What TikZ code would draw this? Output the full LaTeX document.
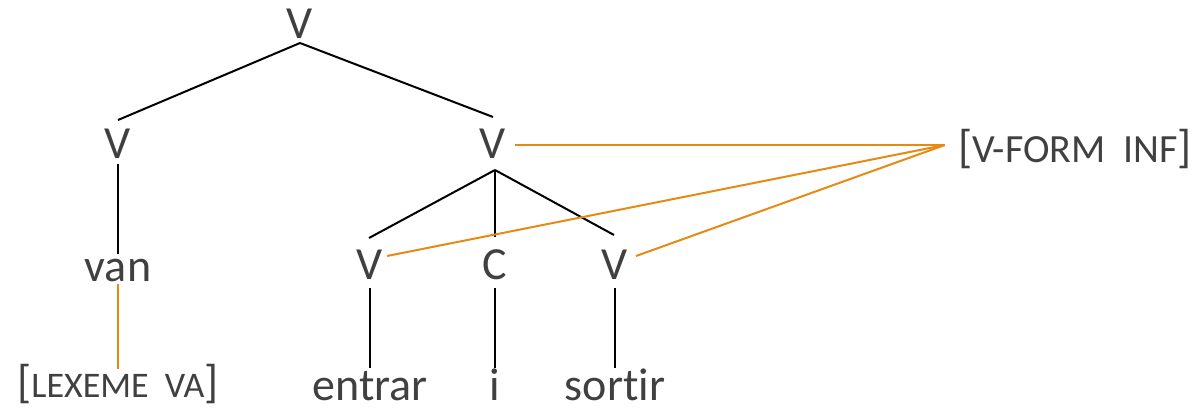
\documentclass[tikz,border=0pt]{standalone}
\usepackage{fontspec}
\setmainfont{Carlito}[Ligatures={NoCommon}]
\usetikzlibrary{calc}
\definecolor{ink}{HTML}{404040}
\definecolor{feat}{RGB}{230,138,20}
\tikzset{
  lbl/.style={anchor=base, inner sep=0pt, text=ink, font=\fontsize{46}{52}\selectfont},
  branch/.style={draw=black, line width=2pt},
  featlink/.style={draw=feat, line width=2pt},
}
\newcommand{\smc}[1]{{\fontsize{36}{40}\selectfont #1}}
\newcommand{\smcb}[1]{{\fontsize{40}{44}\selectfont #1}}
\begin{document}
\begin{tikzpicture}[x=1pt, y=-1pt]
  \useasboundingbox (0,0) rectangle (1193,407);
  % category labels
  \node[lbl] (v0) at (300,38) {V};
  \node[lbl] (v1) at (118,158) {V};
  \node[lbl] (v2) at (493,158) {V};
  \node[lbl] (van) at (118,281) {van};
  \node[lbl] (v3) at (370,279) {V};
  \node[lbl] (c)  at (495,279) {C};
  \node[lbl] (v4) at (615,279) {V};
  % words
  \node[lbl] (w1) at (370,400) {entrar};
  \node[lbl] (w2) at (495,400) {i};
  \node[lbl] (w3) at (615,400) {sortir};
  % feature structures
  \node[lbl] (lex) at (118,397) {[\smc{LEXEME\hspace{0.45em}VA}]};
  \node[lbl] (vf) at (1075,162) {[\smcb{V-FORM\hspace{0.45em}INF}]};
  \coordinate (fa) at ($(vf.base west)+(-13,-17)$);
  % tree branches
  \draw[branch] ($(v0.base)+(0,5)$) -- ($(v1.base)+(0,-38)$);
  \draw[branch] ($(v0.base)+(0,5)$) -- ($(v2.base)+(0,-41)$);
  \draw[branch] ($(v1.base)+(0,6)$) -- ($(van.base)+(0,-27)$);
  \draw[branch] ($(v2.base)+(2,12)$) -- ($(v3.base)+(-1,-41)$);
  \draw[branch] ($(v2.base)+(2,12)$) -- ($(c.base)+(0,-42)$);
  \draw[branch] ($(v2.base)+(2,12)$) -- ($(v4.base)+(-1,-44)$);
  \draw[branch] ($(v3.base)+(0,9)$) -- ($(w1.base)+(0,-32)$);
  \draw[branch] ($(c.base)+(0,9)$) -- ($(w2.base)+(0,-32)$);
  \draw[branch] ($(v4.base)+(0,9)$) -- ($(w3.base)+(0,-32)$);
  % feature links
  \draw[featlink] ($(van.base)+(0,3)$) -- ($(lex.base)+(0,-28)$);
  \draw[featlink] ($(v2.base)+(22,-13)$) -- (fa);
  \draw[featlink] ($(v3.base)+(17,-23)$) -- (fa);
  \draw[featlink] ($(v4.base)+(21,-23)$) -- (fa);
\end{tikzpicture}
\end{document}
